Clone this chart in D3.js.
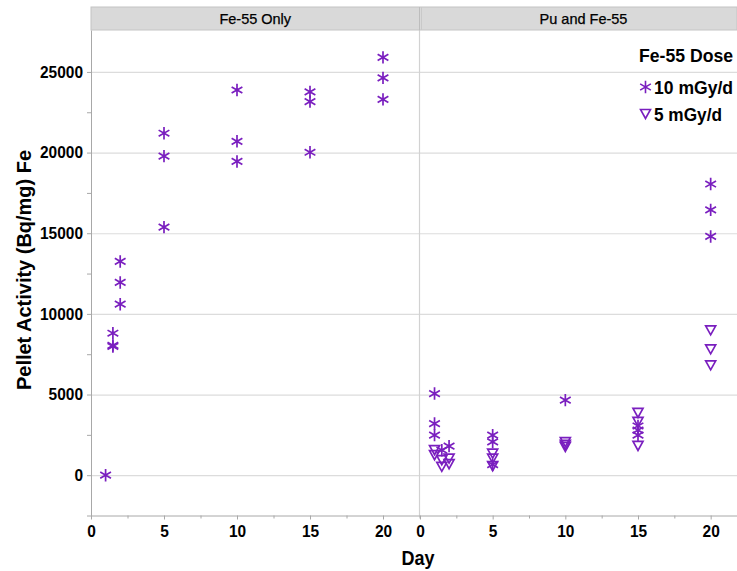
<!DOCTYPE html>
<html>
<head>
<meta charset="utf-8">
<script src="https://cdn.jsdelivr.net/npm/d3@7/dist/d3.min.js"></script>
<style>
  html, body { margin: 0; padding: 0; background: #fff; }
  svg { display: block; font-family: "Liberation Sans", Arial, sans-serif; }
</style>
</head>
<body>
<svg id="chart" width="737" height="571"></svg>
<script>
// Panels and legend entries
const panelTitles = ["Fe-55 Only", "Pu and Fe-55"];
const doseLabels = ["10 mGy/d", "5 mGy/d"];
const legendTitle = "Fe-55 Dose";

// Axis ticks
const yTicks = [0, 5000, 10000, 15000, 20000, 25000];
const yMinorTicks = [-2500, 2500, 7500, 12500, 17500, 22500];
const xTicks = [0, 5, 10, 15, 20];
const xMinorTicks = [2.5, 7.5, 12.5, 17.5, 22.5];

// Fe-55 only, 10 mGy/d
const feOnlyDays10 = [1, 1.5, 1.5, 1.5, 2, 2, 2, 5, 5, 5, 10, 10, 10, 15, 15, 15, 20, 20, 20];
const feOnlyVals10 = [0, 8800, 8050, 7980, 10600, 11950, 13250, 21200, 19780, 15380, 23880, 20700, 19450, 23760, 23160, 20020, 25900, 24630, 23300];

// Pu and Fe-55, 10 mGy/d
const puDays10 = [1, 1, 1, 1.5, 2, 5, 5, 5, 10, 15, 15, 15, 20, 20, 20];
const puVals10 = [5060, 3200, 2480, 1550, 1800, 2480, 2060, 650, 4650, 3050, 2790, 2480, 18050, 16450, 14800];

// Pu and Fe-55, 5 mGy/d
const puDays5 = [1, 1, 1.5, 1.5, 2, 2, 5, 5, 5, 10, 10, 10, 15, 15, 15, 20, 20, 20];
const puVals5 = [1550, 1240, 930, 520, 1030, 680, 1340, 1030, 560, 2050, 1880, 1750, 3860, 3300, 1815, 8980, 7800, 6810];

const purple = "#7a1fbf";
const gridColor = "#dcdcdc";
const axisColor = "#a8a8a8";

const svg = d3.select("#chart");

const plotTop = 30, plotBottom = 515.5;
const panelLeft = [91, 420];
const panelRight = [419.5, 747];

const y = d3.scaleLinear().domain([-2500, 27600]).range([plotBottom, plotTop]);
const xs = panelLeft.map((l, i) => d3.scaleLinear().domain([0, 22.5]).range([l, panelRight[i]]));

// Horizontal gridlines across both panels
svg.append("g").selectAll("line").data(yTicks).join("line")
  .attr("x1", panelLeft[0]).attr("x2", 737)
  .attr("y1", d => y(d) + 0.5).attr("y2", d => y(d) + 0.5)
  .attr("stroke", gridColor).attr("stroke-width", 1.2);

// Panel separator
svg.append("line").attr("x1", 419.5).attr("x2", 419.5).attr("y1", 7).attr("y2", plotBottom)
  .attr("stroke", "#d2d2d2").attr("stroke-width", 1.2);

// Header strip
svg.append("rect").attr("x", panelLeft[0]).attr("y", 7).attr("width", 737 - panelLeft[0]).attr("height", 23)
  .attr("fill", "#d9d9d9").attr("stroke", "#c4c4c4").attr("stroke-width", 1);
svg.append("line").attr("x1", 419.5).attr("x2", 419.5).attr("y1", 7).attr("y2", 30)
  .attr("stroke", "#bdbdbd").attr("stroke-width", 1);
svg.append("line").attr("x1", 421.5).attr("x2", 421.5).attr("y1", 7).attr("y2", 30)
  .attr("stroke", "#c9c9c9").attr("stroke-width", 1);
svg.append("g").selectAll("text").data(panelTitles).join("text")
  .attr("x", (d, i) => (panelLeft[i] + panelRight[i]) / 2)
  .attr("y", 24)
  .attr("text-anchor", "middle")
  .attr("font-size", "14.5px")
  .attr("fill", "#000")
  .attr("stroke", "#000").attr("stroke-width", 0.25)
  .text(d => d);

// Y axis
const yAxis = svg.append("g").attr("transform", `translate(${panelLeft[0]},0)`)
  .call(d3.axisLeft(y).tickValues(yTicks).tickFormat(d3.format("d")).tickSize(4).tickSizeOuter(0).tickPadding(4));
yAxis.select(".domain").attr("stroke", axisColor);
yAxis.selectAll(".tick line").attr("stroke", axisColor);
yAxis.selectAll(".tick text").attr("font-size", "16px").attr("font-weight", "bold")
  .attr("fill", "#000").attr("font-family", "'Liberation Sans', Arial, sans-serif")
  .attr("textLength", d => String(d).length * 8.6).attr("lengthAdjust", "spacingAndGlyphs");
const yMinor = svg.append("g").attr("transform", `translate(${panelLeft[0]},0)`)
  .call(d3.axisLeft(y).tickValues(yMinorTicks).tickSize(4).tickSizeOuter(0).tickFormat(""));
yMinor.select(".domain").remove();
yMinor.selectAll(".tick line").attr("stroke", axisColor);

// X axes, one per panel
xs.forEach((x, i) => {
  const gx = svg.append("g").attr("transform", `translate(0,${plotBottom})`)
    .call(d3.axisBottom(x).tickValues(xTicks).tickSize(4).tickSizeOuter(0).tickPadding(6));
  gx.select(".domain").attr("stroke", axisColor);
  gx.selectAll(".tick line").attr("stroke", axisColor);
  gx.selectAll(".tick text").attr("font-size", "16px").attr("font-weight", "bold")
    .attr("fill", "#000").attr("font-family", "'Liberation Sans', Arial, sans-serif")
    .attr("textLength", d => String(d).length * 8.6).attr("lengthAdjust", "spacingAndGlyphs");
  const gm = svg.append("g").attr("transform", `translate(0,${plotBottom})`)
    .call(d3.axisBottom(x).tickValues(xMinorTicks).tickSize(3).tickSizeOuter(0).tickFormat(""));
  gm.select(".domain").remove();
  gm.selectAll(".tick line").attr("stroke", axisColor);
});

// Axis titles
svg.append("text")
  .attr("transform", `translate(31,270) rotate(-90)`)
  .attr("text-anchor", "middle")
  .attr("font-size", "21px").attr("font-weight", "bold").attr("fill", "#000")
  .attr("textLength", 240).attr("lengthAdjust", "spacingAndGlyphs")
  .text("Pellet Activity (Bq/mg) Fe");
svg.append("text")
  .attr("x", 418).attr("y", 565)
  .attr("text-anchor", "middle")
  .attr("font-size", "20px").attr("font-weight", "bold").attr("fill", "#000")
  .attr("textLength", 33).attr("lengthAdjust", "spacingAndGlyphs")
  .text("Day");

// Marker shapes
const starR = 6.2;
const starPath = (() => {
  const p = d3.path();
  for (let k = 0; k < 3; k++) {
    const a = k * Math.PI / 3;
    const dx = starR * Math.sin(a), dy = starR * Math.cos(a);
    p.moveTo(-dx, -dy); p.lineTo(dx, dy);
  }
  return p.toString();
})();
const triPath = (() => {
  const p = d3.path();
  p.moveTo(-5, -4.5); p.lineTo(5, -4.5); p.lineTo(0, 4.5); p.closePath();
  return p.toString();
})();

function drawSeries(x, days, vals, shape) {
  const pts = days.map((d, i) => ({ day: d, val: vals[i] }));
  svg.append("g").selectAll("path").data(pts).join("path")
    .attr("transform", d => `translate(${x(d.day)},${y(d.val)})`)
    .attr("d", shape)
    .attr("fill", "none")
    .attr("stroke", purple)
    .attr("stroke-width", 1.7);
}

drawSeries(xs[0], feOnlyDays10, feOnlyVals10, starPath);
drawSeries(xs[1], puDays5, puVals5, triPath);
drawSeries(xs[1], puDays10, puVals10, starPath);

// Legend
const lg = svg.append("g");
lg.append("text").attr("x", 639).attr("y", 62)
  .attr("font-size", "18px").attr("font-weight", "bold").attr("fill", "#000")
  .attr("textLength", 94).attr("lengthAdjust", "spacingAndGlyphs")
  .text(legendTitle);
const legendShapes = [starPath, triPath];
const legendY = [87, 114];
const legendW = [79, 68];
doseLabels.forEach((lab, i) => {
  lg.append("path").attr("transform", `translate(645.5,${legendY[i]})`)
    .attr("d", legendShapes[i]).attr("fill", "none").attr("stroke", purple).attr("stroke-width", 1.6);
  lg.append("text").attr("x", 654).attr("y", legendY[i] + 6.5)
    .attr("font-size", "18px").attr("font-weight", "bold").attr("fill", "#000")
    .attr("textLength", legendW[i]).attr("lengthAdjust", "spacingAndGlyphs")
    .text(lab);
});
</script>
</body>
</html>
